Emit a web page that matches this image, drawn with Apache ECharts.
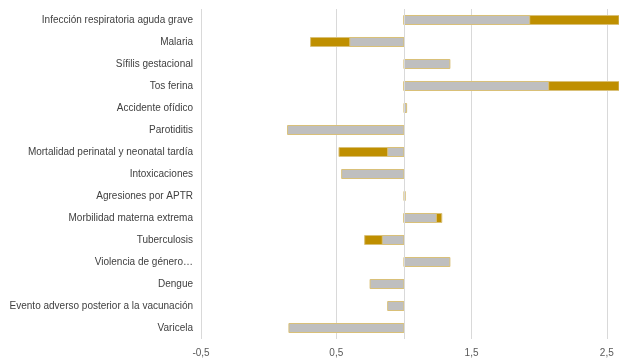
<!DOCTYPE html>
<html>
<head>
<meta charset="utf-8">
<script src="https://cdn.jsdelivr.net/npm/echarts@6/dist/echarts.min.js"></script>
<style>
  html, body { margin: 0; padding: 0; background: #fff; }
  #chart { width: 619px; height: 360px; }
</style>
</head>
<body>
<div id="chart"></div>
<script>
// Event names, top to bottom
const categories = [
  'Infección respiratoria aguda grave',
  'Malaria',
  'Sífilis gestacional',
  'Tos ferina',
  'Accidente ofídico',
  'Parotiditis',
  'Mortalidad perinatal y neonatal tardía',
  'Intoxicaciones',
  'Agresiones por APTR',
  'Morbilidad materna extrema',
  'Tuberculosis',
  'Violencia de género…',
  'Dengue',
  'Evento adverso posterior a la vacunación',
  'Varicela'
];

// Ratio values; bars grow from the reference value 1
const goldValues = [2.80, 0.31, null, 2.80, null, null, 0.52, null, null, 1.28, 0.71, null, null, null, null];
const grayValues = [1.93, 0.60, 1.34, 2.07, 1.02, 0.14, 0.88, 0.54, 1.01, 1.24, 0.84, 1.34, 0.75, 0.88, 0.15];

// Axis ticks
const axisMin = -0.5;
const axisMax = 2.59;
const axisStep = 1;
const baseValue = 1;

function barRenderer(fill) {
  return function (params, api) {
    const v = api.value(1);
    if (v == null || isNaN(v)) return null;
    const idx = api.value(0);
    const p0 = api.coord([baseValue, idx]);
    const p1 = api.coord([v, idx]);
    const h = api.size([0, 1])[1] * 0.41;
    const rect = echarts.graphic.clipRectByRect({
      x: Math.min(p0[0], p1[0]),
      y: p0[1] - h / 2,
      width: Math.abs(p1[0] - p0[0]),
      height: h
    }, {
      x: params.coordSys.x,
      y: params.coordSys.y,
      width: params.coordSys.width,
      height: params.coordSys.height
    });
    if (!rect) return null;
    return {
      type: 'rect',
      shape: rect,
      style: { fill: fill, stroke: '#D9C078', lineWidth: 1 }
    };
  };
}

function toData(values) {
  return values.map((v, i) => [i, v]);
}

const chart = echarts.init(document.getElementById('chart'), null, { renderer: 'canvas' });
chart.setOption({
  animation: false,
  backgroundColor: '#ffffff',
  grid: { left: 201, right: -3, top: 9, bottom: 21, containLabel: false },
  xAxis: {
    type: 'value',
    min: axisMin,
    max: axisMax,
    interval: axisStep,
    axisLine: { show: false },
    axisTick: { show: false },
    splitLine: { show: true, lineStyle: { color: '#D9D9D9', width: 1 } },
    axisLabel: {
      showMaxLabel: false,
      margin: 9,
      color: '#595959',
      fontFamily: 'Liberation Sans, Arial, sans-serif',
      fontSize: 10,
      formatter: v => v.toFixed(1).replace('.', ',')
    }
  },
  yAxis: {
    type: 'category',
    data: categories,
    inverse: true,
    axisLine: { show: false },
    axisTick: { show: false },
    splitLine: { show: false },
    axisLabel: {
      margin: 8,
      color: '#404040',
      fontFamily: 'Liberation Sans, Arial, sans-serif',
      fontSize: 10
    }
  },
  series: [
    {
      type: 'custom',
      name: 'gold',
      renderItem: barRenderer('#BF8F00'),
      encode: { x: 1, y: 0 },
      data: toData(goldValues),
      markLine: {
        silent: true,
        symbol: 'none',
        label: { show: false },
        lineStyle: { color: '#D9D9D9', type: 'solid', width: 1 },
        data: [{ xAxis: baseValue }]
      }
    },
    {
      type: 'custom',
      name: 'gray',
      renderItem: barRenderer('#BFBFBF'),
      encode: { x: 1, y: 0 },
      data: toData(grayValues)
    }
  ]
});
</script>
</body>
</html>
